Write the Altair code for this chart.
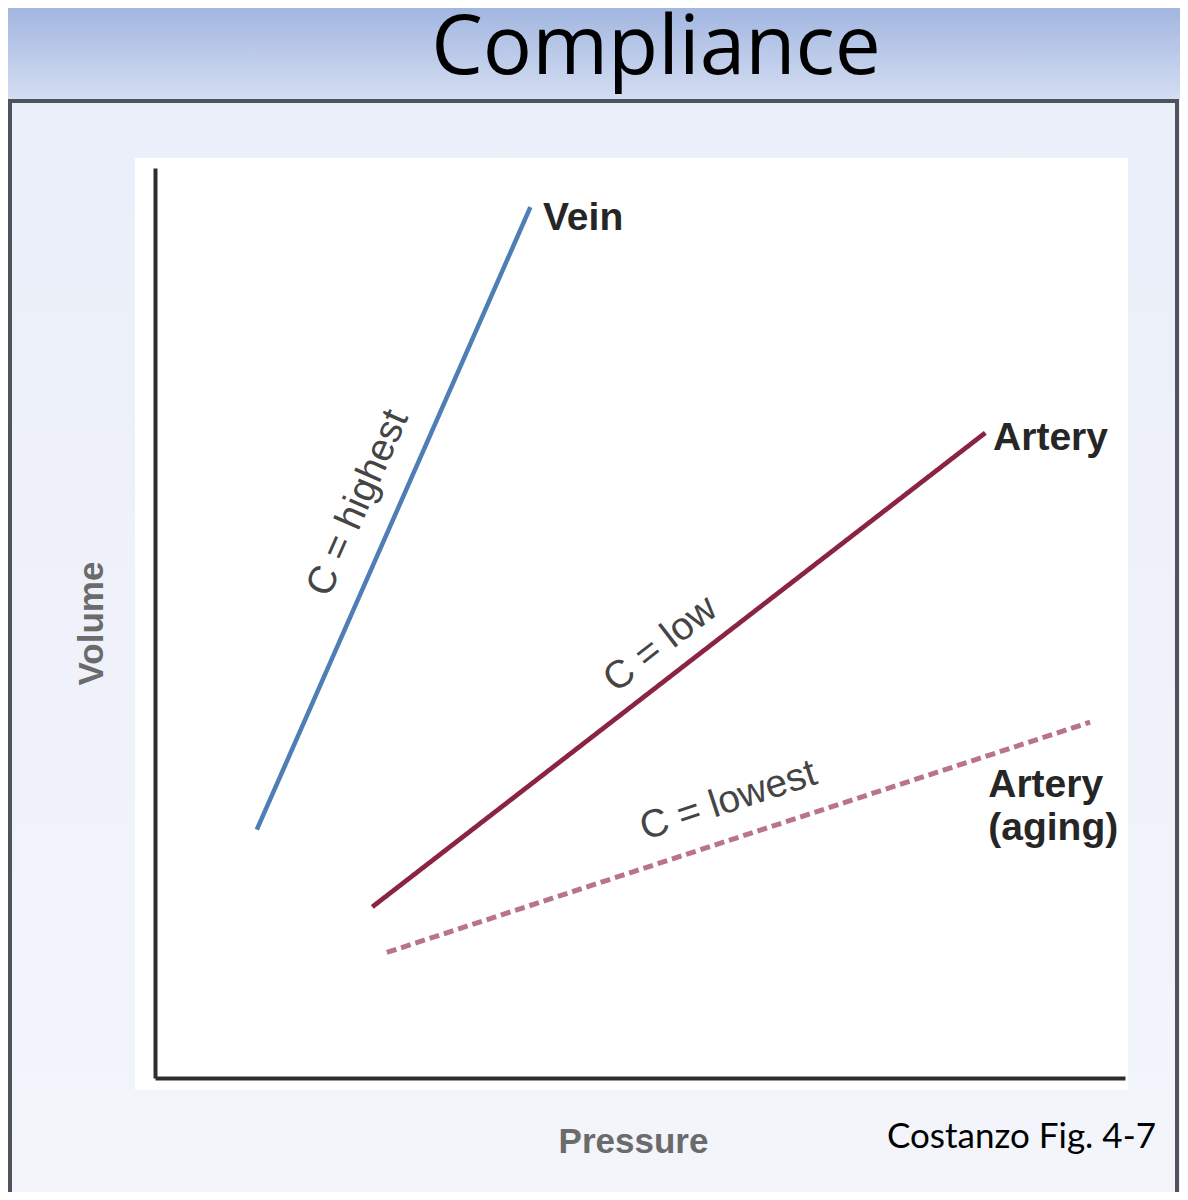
import math
import altair as alt
import pandas as pd

# ---------------- data ----------------
series = ["Vein", "Artery", "Artery (aging)"]
pressure_start = [10.5, 22.4, 23.9]
pressure_end = [38.7, 85.6, 96.4]
volume_start = [27.3, 18.8, 13.8]
volume_end = [95.7, 70.9, 39.1]

end_labels = ["Vein", "Artery", "Artery\n(aging)"]
end_label_x = [40.0, 86.4, 85.9]
end_label_y = [94.5, 70.3, 32.2]

comp_labels = ["C = highest", "C = low", "C = lowest"]
comp_x = [20.9, 52.1, 59.1]
comp_y = [63.2, 47.7, 30.5]

title_text = "Compliance"
source_text = "Costanzo Fig. 4-7"
x_title = "Pressure"
y_title = "Volume"

# ---------------- styling ----------------
W, H = 970, 910
line_colors = ["#4f7db5", "#8a2440", "#b9728f"]
line_dashes = [[1, 0], [1, 0], [10, 5]]
line_widths = [4.5, 5, 4.5]

# ---------------- tables ----------------
rows = []
for s, x0, x1, y0, y1 in zip(series, pressure_start, pressure_end, volume_start, volume_end):
    rows.append({"series": s, "pressure": x0, "volume": y0})
    rows.append({"series": s, "pressure": x1, "volume": y1})
lines_df = pd.DataFrame(rows)

ends_df = pd.DataFrame({"label": end_labels, "pressure": end_label_x, "volume": end_label_y})

angles = []
for x0, x1, y0, y1 in zip(pressure_start, pressure_end, volume_start, volume_end):
    dx = (x1 - x0) * W / 100.0
    dy = (y1 - y0) * H / 100.0
    angles.append((-math.degrees(math.atan2(dy, dx))) % 360)
comp_df = pd.DataFrame({"label": comp_labels, "pressure": comp_x, "volume": comp_y, "angle": angles})

one = pd.DataFrame({"k": [0]})

xs = alt.Scale(domain=[0, 100], nice=False, zero=False)
ys = alt.Scale(domain=[0, 100], nice=False, zero=False)

axis_style = dict(
    labels=False, ticks=False, grid=False,
    domainColor="#2e2e2e", domainWidth=4,
    titleFont="Liberation Sans", titleFontSize=35, titleFontWeight="bold",
    titleColor="#6b6b6b", titlePadding=46, zindex=1,
)
x_axis = alt.Axis(title=x_title, titleX=478, **axis_style)
y_axis = alt.Axis(title=y_title, **axis_style)
X = alt.X("pressure:Q", scale=xs, axis=x_axis)
Y = alt.Y("volume:Q", scale=ys, axis=y_axis)

# ---------------- slide decorations ----------------
band = alt.Chart(one).mark_rect(
    fill=alt.Gradient(
        gradient="linear",
        stops=[alt.GradientStop(color="#a2b6e0", offset=0), alt.GradientStop(color="#d4def2", offset=1)],
        x1=0, x2=0, y1=0, y2=1,
    )
).encode(x=alt.value(-147), x2=alt.value(1025), y=alt.value(-160), y2=alt.value(-68))

box = alt.Chart(one).mark_rect(
    fill=alt.Gradient(
        gradient="linear",
        stops=[alt.GradientStop(color="#ebeff9", offset=0), alt.GradientStop(color="#f3f5fb", offset=1)],
        x1=0, x2=0, y1=0, y2=1,
    ),
    stroke="#4e535c",
    strokeWidth=4,
).encode(x=alt.value(-145), x2=alt.value(1022), y=alt.value(-67), y2=alt.value(1040))

panel = alt.Chart(one).mark_rect(fill="#ffffff").encode(
    x=alt.value(-20), x2=alt.value(973), y=alt.value(-10), y2=alt.value(922)
)

# ---------------- data layers ----------------
lines = alt.Chart(lines_df).mark_line().encode(
    x=X,
    y=Y,
    detail="series:N",
    color=alt.Color("series:N", scale=alt.Scale(domain=series, range=line_colors), legend=None),
    strokeDash=alt.StrokeDash("series:N", scale=alt.Scale(domain=series, range=line_dashes), legend=None),
    strokeWidth=alt.StrokeWidth("series:O", scale=alt.Scale(domain=series, range=line_widths), legend=None),
)

end_text = alt.Chart(ends_df).mark_text(
    align="left", baseline="middle", font="Liberation Sans", fontSize=39,
    fontWeight="bold", color="#262626", lineBreak="\n", lineHeight=43,
).encode(x=X, y=Y, text="label:N")

comp_text = alt.Chart(comp_df).mark_text(
    align="center", baseline="middle", font="Liberation Sans", fontSize=39, color="#454545",
).encode(
    x=X,
    y=Y,
    angle=alt.Angle("angle:Q", scale=None),
    text="label:N",
)

title = alt.Chart(one).mark_text(
    align="center", baseline="alphabetic", font="Open Sans", fontSize=82, color="#000000",
).encode(x=alt.value(501), y=alt.value(-94), text=alt.value(title_text))

source = alt.Chart(one).mark_text(
    align="left", baseline="alphabetic", font="Lato", fontSize=35, color="#000000",
).encode(x=alt.value(732), y=alt.value(980), text=alt.value(source_text))

chart = alt.layer(band, box, panel, lines, end_text, comp_text, title, source).properties(
    width=W, height=H,
    autosize=alt.AutoSizeParams(type="none"),
    padding={"left": 147, "top": 160, "right": 55, "bottom": 114},
    background="#eef1fa",
).configure_view(stroke=None)

chart.save("out.html", embed_options={"renderer": "svg", "actions": False})
